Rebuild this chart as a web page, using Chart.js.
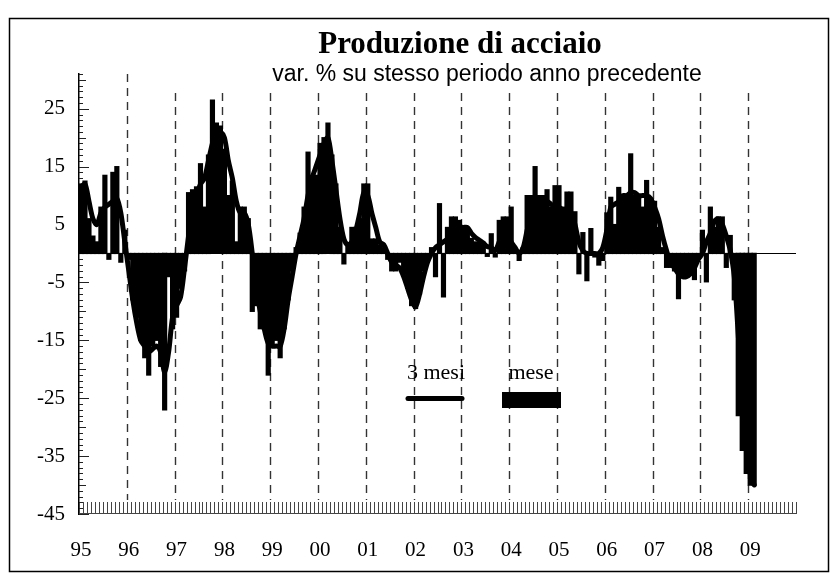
<!DOCTYPE html>
<html>
<head>
<meta charset="utf-8">
<script src="https://cdn.jsdelivr.net/npm/chart.js@4.4.1/dist/chart.umd.min.js"></script>
<style>
  html, body { margin: 0; padding: 0; background: #fff; }
  #wrap { width: 830px; height: 575px; }
</style>
</head>
<body>
<div id="wrap"><canvas id="acciaio" width="830" height="575"></canvas></div>
<script>
// etichette anni (asse x) e tacche asse y
const anni = ['95', '96', '97', '98', '99', '00', '01', '02', '03', '04', '05', '06', '07', '08', '09'];
const yTicks = [25, 15, 5, -5, -15, -25, -35, -45];

// var. % mensile (barre), gen 1995 - feb 2009
const mese = [
  12, 12.5, 6, 3, 2, 8, 13.5, -1, 14, 15, -1.5, 4,             // 1995
  -1, -8, -11, -15, -18, -21, -16, -15, -19.5, -27, -4, -13,   // 1996
  -11, -6, -3, 10.5, 11, 11.5, 15.5, 8, 17, 26.5, 22.5, 22,    // 1997
  18, 10, 12.5, 2, 8, 8, 6, -10, -9, -13, -13, -21,            // 1998
  -16, -15, -18, -13, -8, -3, 1, 3.5, 8, 17.5, 13.5, 13.5,     // 1999
  19, 20, 22.5, 17, 12, 4.5, -1.8, 1.5, 4.5, 4.5, 6, 12,       // 2000
  12, 2.5, 2.5, 1.5, 1, -1, -3, -3, -1.5, -3.5, -6, -9,        // 2001
  -9.5, -7, -3, -1, 1, -4, 8.6, -7.5, 4.5, 6.3, 6.3, 5.7,      // 2002
  4.5, 4.5, 2.6, 2, 2, 1.4, -0.5, 3.4, -0.6, 5.7, 6.3, 6.3,    // 2003
  8, 0.8, -1.2, 1, 10, 10, 15, 10, 10, 11, 8, 11.7,            // 2004
  11.7, 8, 10.6, 10.6, 7.2, -3.5, 3.6, -4.7, 4.3, -0.6, -2, -1.2, // 2005
  7, 9.7, 5, 11.4, 10, 10, 17.2, 10, 10, 8, 12.6, 9.4,         // 2006
  9, 4.5, 1, -2.4, -2.4, -3, -7.8, -4, -4, -3.5, -4.5, -1,     // 2007
  4, -4.9, 8, 4.5, 6.3, 6.3, -2.4, 3.1, -8, -28, -34, -38,     // 2008
  -40, -40                                                     // 2009
];

// media a 3 mesi (linea)
const treMesi = [
  11.5, 12, 9, 6, 5, 7, 8, 8.5, 9, 9.5, 7, 2,                  // 1995
  -3, -8, -12, -15, -16, -17, -16.5, -16, -17, -20.5, -17, -11, // 1996
  -9, -7.5, -2.5, 3, 8, 10, 12, 13, 16, 19, 21, 21,            // 1997
  20, 16, 13, 9, 7, 7, 5, 0, -6, -10, -13, -15.5,              // 1998
  -16, -16, -16, -13, -8, -4, 0, 3, 6, 10, 13, 15,             // 1999
  17, 19, 20, 16, 11, 6, 2.5, 1.5, 2, 4, 7, 10.5,              // 2000
  10, 7, 4.5, 2, 1.5, 0, -1.5, -2, -2.5, -4, -6, -8,           // 2001
  -9.2, -7, -4, -1.5, 0, 1, 1.5, 2, 2.5, 3, 4, 4.5,            // 2002
  4.5, 4.5, 3.5, 2.8, 2.3, 1.8, 1.2, 1, 0.5, 2, 3.5, 3.5,      // 2003
  2, 1, 0, 1, 4, 6.5, 8, 8.5, 9, 9, 8.5, 8,                    // 2004
  8, 7.5, 7.5, 7, 5, 2, 0.5, 0, 0, 0, 0, 1,                    // 2005
  4, 8, 8.5, 9, 10, 10, 10.5, 10.5, 10, 10, 10, 9.5,           // 2006
  8, 6, 3, 0.5, -1.5, -2.5, -3.5, -4, -4, -3.5, -2.5, -1,      // 2007
  0, 2, 3.5, 5.5, 6, 5, 3, 0.5, -4, -14, -25, -33,             // 2008
  -38, -40                                                     // 2009
];

const titolo = 'Produzione di acciaio';
const sottotitolo = 'var. % su stesso periodo anno precedente';
const legLinea = '3 mesi';
const legBarre = 'mese';

// una categoria per ogni mese
const mesi = [];
anni.forEach(a => { for (let m = 1; m <= 12; m++) mesi.push(a + '-' + m); });

const SERIF = '"Liberation Serif", "Times New Roman", serif';
const SANS = '"Liberation Sans", Arial, sans-serif';

const decorazioni = {
  id: 'decorazioni',
  beforeDraw(chart) {
    const c = chart.ctx;
    c.save();
    c.fillStyle = '#fff';
    c.fillRect(0, 0, chart.width, chart.height);
    c.restore();
  },
  beforeDatasetsDraw(chart) {
    const c = chart.ctx, a = chart.chartArea, x = chart.scales.x, y = chart.scales.y;
    const w = x.width / mesi.length;
    c.save();
    // linee tratteggiate di inizio anno
    c.strokeStyle = '#333';
    c.lineWidth = 1.4;
    c.setLineDash([8, 6]);
    for (let i = 12; i < mesi.length; i += 12) {
      const px = Math.round(x.getPixelForValue(i) - w / 2) + 0.5;
      const top = i === 12 ? a.top : a.top + 19;
      c.beginPath();
      c.moveTo(px, top);
      c.lineTo(px, a.bottom - 14);
      c.stroke();
    }
    c.setLineDash([]);
    // linea dello zero
    const y0 = Math.round(y.getPixelForValue(0)) + 0.5;
    c.strokeStyle = '#000';
    c.lineWidth = 1;
    c.beginPath();
    c.moveTo(a.left, y0);
    c.lineTo(a.right, y0);
    c.stroke();
    // tacche mensili in basso
    c.strokeStyle = '#444';
    for (let i = 0; i <= mesi.length; i++) {
      const px = Math.round(x.getPixelForValue(Math.min(i, mesi.length - 1)) + (i === mesi.length ? w / 2 : -w / 2)) + 0.5;
      c.beginPath();
      c.moveTo(px, a.bottom - 12);
      c.lineTo(px, a.bottom);
      c.stroke();
    }
    c.beginPath();
    c.moveTo(a.left, a.bottom - 0.5);
    c.lineTo(a.right, a.bottom - 0.5);
    c.stroke();
    // tacche minori asse y
    c.strokeStyle = '#222';
    for (let v = -45; v <= 31; v++) {
      const py = Math.round(y.getPixelForValue(v)) + 0.5;
      const len = (v + 45) % 10 === 0 ? 10 : (v % 5 === 0 ? 7 : 4);
      c.beginPath();
      c.moveTo(a.left, py);
      c.lineTo(a.left + len, py);
      c.stroke();
    }
    c.restore();
  },
  afterDraw(chart) {
    const c = chart.ctx;
    c.save();
    c.fillStyle = '#000';
    c.textAlign = 'center';
    c.textBaseline = 'alphabetic';
    c.font = 'bold 31px ' + SERIF;
    c.fillText(titolo, 460, 53);
    c.font = '23px ' + SANS;
    c.fillText(sottotitolo, 487, 81);

    // legenda
    c.font = '22px ' + SERIF;
    c.fillText(legLinea, 436, 379);
    c.fillText(legBarre, 531, 379);
    c.strokeStyle = '#000';
    c.lineWidth = 5;
    c.lineCap = 'round';
    c.beginPath();
    c.moveTo(408, 398.5);
    c.lineTo(462, 398.5);
    c.stroke();
    c.fillRect(502, 392, 59, 16);

    // cornice
    c.lineWidth = 1.5;
    c.lineCap = 'butt';
    c.strokeRect(9.5, 18.5, 819, 553);
    c.restore();
  }
};

new Chart(document.getElementById('acciaio'), {
  type: 'bar',
  data: {
    labels: mesi,
    datasets: [
      {
        type: 'line',
        label: legLinea,
        data: treMesi,
        borderColor: '#000',
        borderWidth: 5,
        borderJoinStyle: 'round',
        borderCapStyle: 'round',
        pointRadius: 0,
        tension: 0.3,
        fill: false,
        order: 0
      },
      {
        label: legBarre,
        data: mese,
        backgroundColor: '#000',
        borderWidth: 0,
        inflateAmount: 0.6,
        barPercentage: 1,
        categoryPercentage: 1,
        order: 1
      }
    ]
  },
  options: {
    responsive: false,
    animation: false,
    devicePixelRatio: 1,
    layout: { padding: { left: 0, right: 34, top: 74, bottom: 0 } },
    plugins: {
      legend: { display: false },
      tooltip: { enabled: false },
      title: { display: false }
    },
    scales: {
      x: {
        offset: true,
        afterFit: s => { s.height = 61; },
        grid: { display: false, drawTicks: false },
        border: { display: false },
        ticks: {
          autoSkip: false,
          maxRotation: 0,
          minRotation: 0,
          padding: 24,
          color: '#000',
          font: { family: SERIF, size: 21 },
          callback: (v, i) => (i % 12 === 0 ? anni[i / 12] : '')
        }
      },
      y: {
        min: -45,
        max: 31,
        afterFit: s => { s.width = 79; },
        afterBuildTicks: s => { s.ticks = yTicks.map(v => ({ value: v })); },
        grid: { display: false, drawTicks: false },
        border: { display: true, color: '#000', width: 1.5 },
        ticks: {
          padding: 14,
          color: '#000',
          font: { family: SERIF, size: 21 }
        }
      }
    }
  },
  plugins: [decorazioni]
});
</script>
</body>
</html>
